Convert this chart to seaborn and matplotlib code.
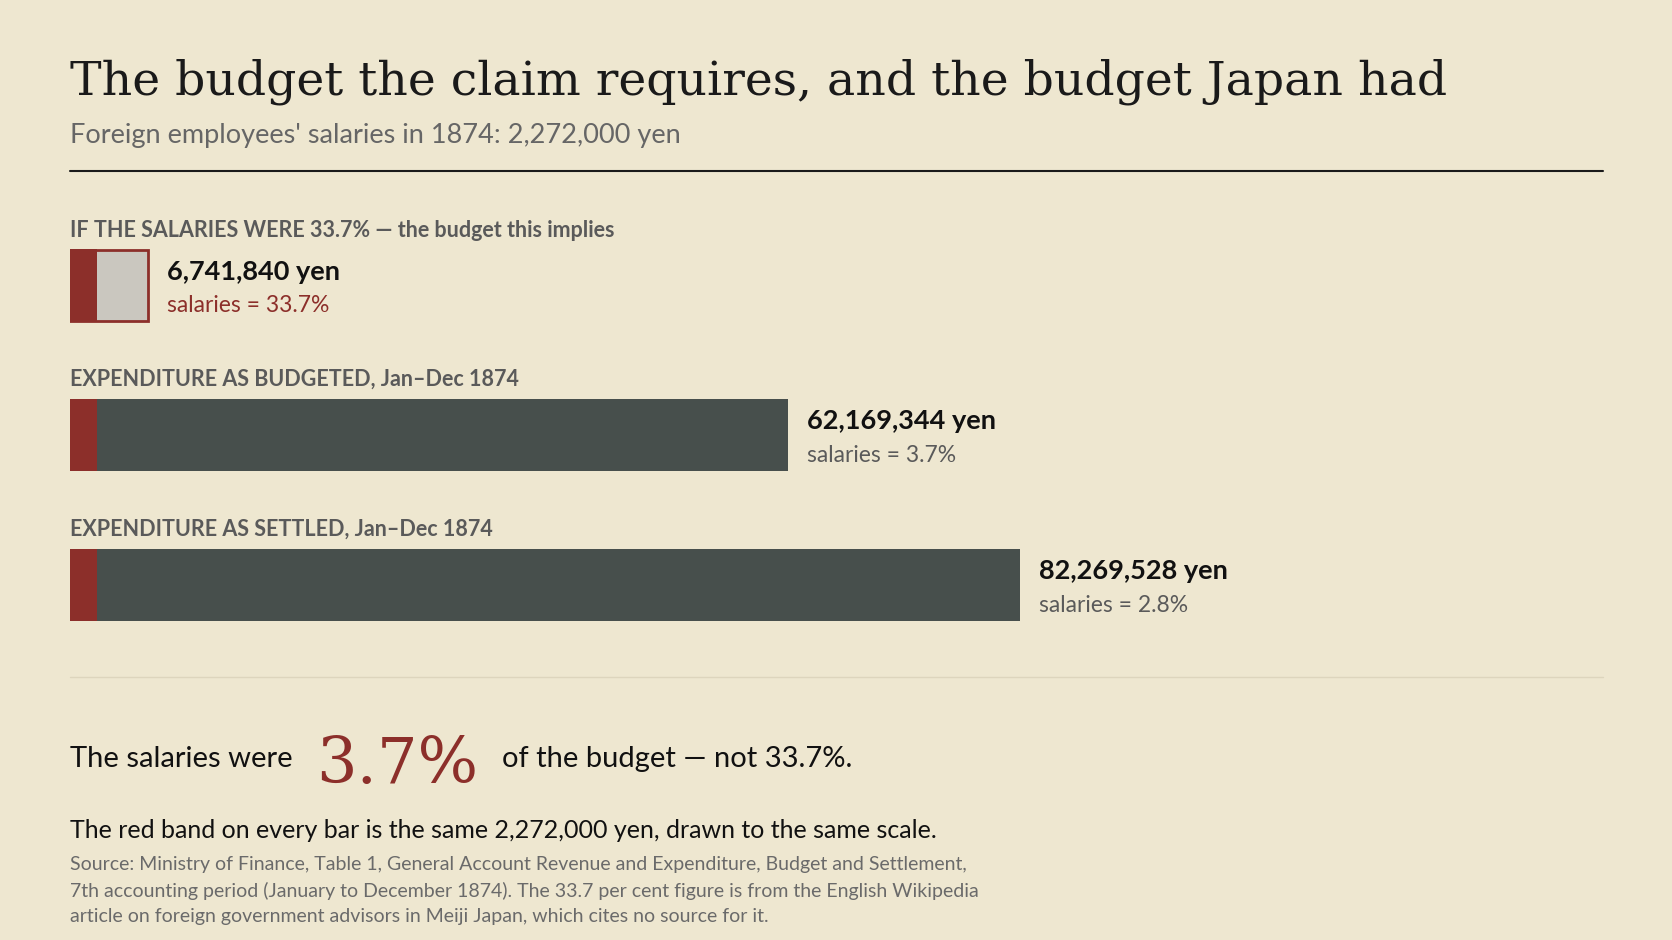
import matplotlib
matplotlib.use("Agg")
import matplotlib.pyplot as plt
import seaborn as sns

# datos
salarios = 2272000
etiquetas = ["IF THE SALARIES WERE 33.7% \u2014 the budget this implies",
             "EXPENDITURE AS BUDGETED, Jan\u2013Dec 1874",
             "EXPENDITURE AS SETTLED, Jan\u2013Dec 1874"]
totales = [6741840, 62169344, 82269528]
porcentajes = ["33.7%", "3.7%", "2.8%"]

BG = "#eee7d0"
ROJO = "#8c2f2a"
OSCURO = "#474f4c"
CLARO = "#cac7bf"
GRIS = "#5a5a5a"

sns.set_theme(style="white", rc={"figure.facecolor": BG, "axes.facecolor": BG})
plt.rcParams["font.family"] = ["Lato", "DejaVu Sans"]

W, H = 1568, 882
fig = plt.figure(figsize=(16.72, 9.4), dpi=100)

def fx(x):
    return x / W

def fy(y):
    return 1 - y / H

# titulo
fig.text(fx(66), fy(77), "The budget the claim requires, and the budget Japan had",
         family="DejaVu Serif", fontsize=34, color="#1a1a1a", va="center")
fig.text(fx(66), fy(127), "Foreign employees' salaries in 1874: 2,272,000 yen",
         fontsize=19.5, color="#666666", va="center")
fig.add_artist(plt.Line2D([fx(66), fx(1503)], [fy(160), fy(160)], color="#1a1a1a", lw=1.5))
fig.add_artist(plt.Line2D([fx(66), fx(1503)], [fy(635), fy(635)], color="#ddd5bd", lw=1))

# eje de barras en coordenadas de pixel verticales
escala = 10.825e-6  # px por yen
ax = fig.add_axes([fx(66), 0, (1503 - 66) / W, 1])
ax.set_xlim(0, (1503 - 66) / escala)
ax.set_ylim(H, 0)
ax.axis("off")

centros = [268, 408, 549]
alto = 68
for i, (et, tot, pct, c) in enumerate(zip(etiquetas, totales, porcentajes, centros)):
    if i == 0:
        ax.barh(c, tot, height=alto - 2, left=0, color=CLARO, edgecolor=ROJO, linewidth=2)
    else:
        ax.barh(c, tot, height=alto, left=0, color=OSCURO, linewidth=0)
    ax.barh(c, salarios, height=alto, left=0, color=ROJO, linewidth=0)
    ax.text(0, c - alto / 2 - 18, et, fontsize=15.5, color=GRIS, fontweight="bold", va="center")
    xt = tot + 18 / escala
    ax.text(xt, c - 13, f"{tot:,} yen", fontsize=19.5, fontweight="bold", color="#111111", va="center")
    ax.text(xt, c + 19, f"salaries = {pct}", fontsize=16.5,
            color=ROJO if i == 0 else GRIS, va="center")

# conclusion
fig.text(fx(66), fy(712), "The salaries were", fontsize=21, color="#111111", va="center")
fig.text(fx(296), fy(718), "3.7%", family="DejaVu Serif", fontsize=46, color=ROJO, va="center")
fig.text(fx(471), fy(712), "of the budget \u2014 not 33.7%.", fontsize=21, color="#111111", va="center")
fig.text(fx(66), fy(779), "The red band on every bar is the same 2,272,000 yen, drawn to the same scale.",
         fontsize=18, color="#111111", va="center")
fig.text(fx(66), fy(803),
         "Source: Ministry of Finance, Table 1, General Account Revenue and Expenditure, Budget and Settlement,\n"
         "7th accounting period (January to December 1874). The 33.7 per cent figure is from the English Wikipedia\n"
         "article on foreign government advisors in Meiji Japan, which cites no source for it.",
         fontsize=14, color="#6a6a6a", va="top", linespacing=1.6)

fig.savefig("out.png", dpi=100, facecolor=BG)
